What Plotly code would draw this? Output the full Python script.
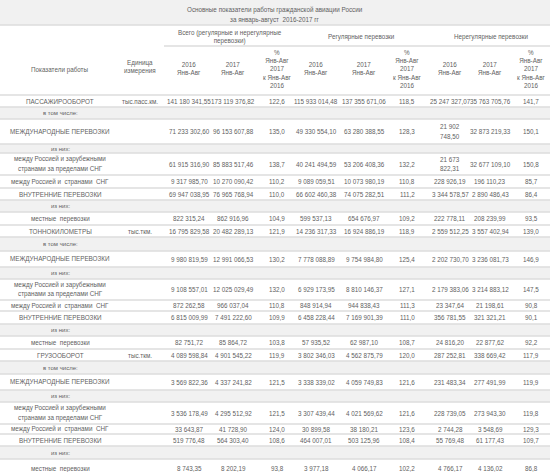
import plotly.graph_objects as go

# ---------------- data ----------------
title_lines = ["Основные показатели работы гражданской авиации России",
               "за январь-август  2016-2017 гг"]
group_headers = ["Всего (регулярные и нерегулярные<br>перевозки)",
                 "Регулярные перевозки",
                 "Нерегулярные перевозки"]
sub_headers = ["2016<br>Янв-Авг", "2017<br>Янв-Авг", "%<br>Янв-Авг<br>2017<br>к Янв-Авг<br>2016"]
col0_header = "Показатели работы"
col1_header = "Единица<br>измерения"

indicators = [
    "ПАССАЖИРООБОРОТ", "в том числе:", "МЕЖДУНАРОДНЫЕ ПЕРЕВОЗКИ", "из них:",
    "между Россией и зарубежными<br>странами за пределами СНГ",
    "между Россией и  странами  СНГ", "ВНУТРЕННИЕ ПЕРЕВОЗКИ", "из них:",
    "местные  перевозки",
    "ТОННОКИЛОМЕТРЫ", "в том числе:", "МЕЖДУНАРОДНЫЕ ПЕРЕВОЗКИ", "из них:",
    "между Россией и зарубежными<br>странами за пределами СНГ",
    "между Россией и  странами  СНГ", "ВНУТРЕННИЕ ПЕРЕВОЗКИ", "из них:",
    "местные  перевозки",
    "ГРУЗООБОРОТ", "в том числе:", "МЕЖДУНАРОДНЫЕ ПЕРЕВОЗКИ", "из них:",
    "между Россией и зарубежными<br>странами за пределами СНГ",
    "между Россией и  странами  СНГ", "ВНУТРЕННИЕ ПЕРЕВОЗКИ", "из них:",
    "местные  перевозки",
]
units = ["тыс.пасс.км.", "", "", "", "", "", "", "", "",
         "тыс.ткм.", "", "", "", "", "", "", "", "",
         "тыс.ткм.", "", "", "", "", "", "", "", ""]

total_2016 = ["141 180 341,55", "", "71 233 302,60", "", "61 915 316,90", "9 317 985,70", "69 947 038,95", "", "822 315,24",
              "16 795 829,58", "", "9 980 819,59", "", "9 108 557,01", "872 262,58", "6 815 009,99", "", "82 751,72",
              "4 089 598,84", "", "3 569 822,36", "", "3 536 178,49", "33 643,87", "519 776,48", "", "8 743,35"]
total_2017 = ["173 119 376,82", "", "96 153 607,88", "", "85 883 517,46", "10 270 090,42", "76 965 768,94", "", "862 916,96",
              "20 482 289,13", "", "12 991 066,53", "", "12 025 029,49", "966 037,04", "7 491 222,60", "", "85 864,72",
              "4 901 545,22", "", "4 337 241,82", "", "4 295 512,92", "41 728,90", "564 303,40", "", "8 202,19"]
total_pct = ["122,6", "", "135,0", "", "138,7", "110,2", "110,0", "", "104,9",
             "121,9", "", "130,2", "", "132,0", "110,8", "109,9", "", "103,8",
             "119,9", "", "121,5", "", "121,5", "124,0", "108,6", "", "93,8"]
reg_2016 = ["115 933 014,48", "", "49 330 554,10", "", "40 241 494,59", "9 089 059,51", "66 602 460,38", "", "599 537,13",
            "14 236 317,33", "", "7 778 088,89", "", "6 929 173,95", "848 914,94", "6 458 228,44", "", "57 935,52",
            "3 802 346,03", "", "3 338 339,02", "", "3 307 439,44", "30 899,58", "464 007,01", "", "3 977,18"]
reg_2017 = ["137 355 671,06", "", "63 280 388,55", "", "53 206 408,36", "10 073 980,19", "74 075 282,51", "", "654 676,97",
            "16 924 886,19", "", "9 754 984,80", "", "8 810 146,37", "944 838,43", "7 169 901,39", "", "62 987,10",
            "4 562 875,79", "", "4 059 749,83", "", "4 021 569,62", "38 180,21", "503 125,96", "", "4 066,17"]
reg_pct = ["118,5", "", "128,3", "", "132,2", "110,8", "111,2", "", "109,2",
           "118,9", "", "125,4", "", "127,1", "111,3", "111,0", "", "108,7",
           "120,0", "", "121,6", "", "121,6", "123,6", "108,4", "", "102,2"]
irr_2016 = ["25 247 327,07", "", "21 902<br>748,50", "", "21 673<br>822,31", "228 926,19", "3 344 578,57", "", "222 778,11",
            "2 559 512,25", "", "2 202 730,70", "", "2 179 383,06", "23 347,64", "356 781,55", "", "24 816,20",
            "287 252,81", "", "231 483,34", "", "228 739,05", "2 744,28", "55 769,48", "", "4 766,17"]
irr_2017 = ["35 763 705,76", "", "32 873 219,33", "", "32 677 109,10", "196 110,23", "2 890 486,43", "", "208 239,99",
            "3 557 402,94", "", "3 236 081,73", "", "3 214 883,12", "21 198,61", "321 321,21", "", "22 877,62",
            "338 669,42", "", "277 491,99", "", "273 943,30", "3 548,69", "61 177,43", "", "4 136,02"]
irr_pct = ["141,7", "", "150,1", "", "150,8", "85,7", "86,4", "", "93,5",
           "139,0", "", "146,9", "", "147,5", "90,8", "90,1", "", "92,2",
           "117,9", "", "119,9", "", "119,8", "129,3", "109,7", "", "86,8"]

# ---------------- layout helpers ----------------
W, H = 550, 472
col_centers = [60, 140, 189, 233, 277, 316, 364, 407, 450, 490, 531]
row_bounds = [95, 107, 119, 144, 153, 175, 188, 200, 212, 225, 237, 251, 267, 279, 300, 311,
              324, 336, 349, 361, 374, 390, 402, 424, 434, 446, 459, 478]
FONT = "Liberation Sans, Arial, sans-serif"
FS = 6.3
TXT = "#5f5f5f"
LINE = "#dcdcdc"
BAND = "#f1f1f1"
BODY_LINE_GAP = 9.5

fig = go.Figure()
shapes = []
ann = []

def add_text(x, y, text, size=FS, color=TXT):
    ann.append(dict(x=x, y=y, xref="x", yref="y", text=text, showarrow=False,
                    xanchor="center", yanchor="middle", align="center",
                    font=dict(family=FONT, size=size, color=color)))

# title band
shapes.append(dict(type="rect", x0=0, x1=W, y0=0, y1=25, fillcolor=BAND, line=dict(width=0), layer="below"))
add_text(275, 9.5, title_lines[0])
add_text(275, 19.5, title_lines[1])
shapes.append(dict(type="line", x0=0, x1=W, y0=25, y1=25, line=dict(color=LINE, width=1.5)))

# headers
add_text(col_centers[0], 69.5, col0_header)
add_text(col_centers[1], 66.5, col1_header)
group_spans = [(2, 4), (5, 7), (8, 10)]
for (a, b), g in zip(group_spans, group_headers):
    add_text((col_centers[a] + col_centers[b]) / 2 - (3 if a == 2 else 0), 37, g)
shapes.append(dict(type="line", x0=164, x1=W, y0=46, y1=46, line=dict(color=LINE, width=1.5)))
for k in range(3):
    for j, sh in enumerate(sub_headers):
        ci = 2 + k * 3 + j
        add_text(col_centers[ci], 68.5, sh)
shapes.append(dict(type="line", x0=0, x1=W, y0=95, y1=95, line=dict(color=LINE, width=1.5)))

# body
columns = [indicators, units, total_2016, total_2017, total_pct, reg_2016, reg_2017, reg_pct,
           irr_2016, irr_2017, irr_pct]
for i in range(len(indicators)):
    y0, y1 = row_bounds[i], row_bounds[i + 1]
    ym = (y0 + y1) / 2
    minor = indicators[i] in ("в том числе:", "из них:")
    if minor:
        shapes.append(dict(type="rect", x0=0, x1=W, y0=y0, y1=y1, fillcolor=BAND,
                           line=dict(width=0), layer="below"))
    shapes.append(dict(type="line", x0=0, x1=W, y0=y1, y1=y1, line=dict(color=LINE, width=1.5)))
    for c, col in enumerate(columns):
        if col[i]:
            size = FS - 0.3 if (minor and c == 0) else FS
            parts = col[i].split("<br>")
            n = len(parts)
            for p, part in enumerate(parts):
                add_text(col_centers[c], ym + (p - (n - 1) / 2) * BODY_LINE_GAP, part, size=size)

fig.update_layout(
    width=W, height=H, margin=dict(l=0, r=0, t=0, b=0),
    paper_bgcolor="white", plot_bgcolor="white",
    xaxis=dict(range=[0, W], visible=False, fixedrange=True),
    yaxis=dict(range=[H, 0], visible=False, fixedrange=True),
    shapes=shapes, annotations=ann, showlegend=False,
)
fig.write_html("out.html", config={"displayModeBar": False},
               post_script="document.body.style.margin='0';document.body.style.overflow='hidden';")
